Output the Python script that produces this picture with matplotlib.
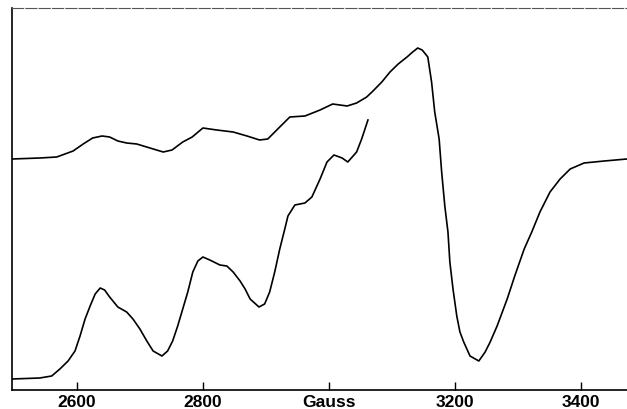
import matplotlib
matplotlib.use("Agg")
import matplotlib.pyplot as plt

# Upper trace (field in Gauss, signal in arbitrary units)
field_a = [2497, 2541, 2568, 2594, 2610, 2625, 2640, 2652, 2665, 2679, 2695, 2716,
           2737, 2751, 2768, 2783, 2800, 2822, 2848, 2870, 2890, 2903, 2922, 2938,
           2962, 2986, 3006, 3029, 3044, 3060, 3070, 3084, 3097, 3110, 3124, 3133,
           3141, 3148, 3152, 3157, 3163, 3168, 3175, 3179, 3184, 3189, 3192, 3197,
           3203, 3208, 3214, 3224, 3238, 3248, 3256, 3267, 3283, 3295, 3310, 3322,
           3335, 3351, 3367, 3383, 3405, 3437, 3473]
signal_a = [231, 232, 233, 239, 246, 252, 254, 253, 249, 247, 246, 242,
            238, 240, 248, 253, 262, 260, 258, 254, 250, 251, 263, 273,
            274, 280, 286, 284, 287, 293, 299, 308, 318, 326, 333, 338,
            342, 340, 337, 333, 308, 278, 251, 218, 184, 158, 128, 101,
            74, 58, 48, 34, 29, 38, 48, 64, 91, 114, 141, 158,
            178, 198, 211, 221, 227, 229, 231]

# Lower trace
field_b = [2497, 2541, 2560, 2573, 2586, 2597, 2605, 2613, 2621, 2629, 2637, 2644,
           2652, 2665, 2679, 2689, 2700, 2711, 2721, 2735, 2744, 2752, 2760, 2768,
           2776, 2784, 2792, 2800, 2811, 2827, 2838, 2848, 2859, 2867, 2875, 2889,
           2898, 2906, 2914, 2922, 2930, 2935, 2946, 2962, 2973, 2986, 2997, 3008,
           3021, 3030, 3044, 3052, 3062]
signal_b = [11, 12, 14, 21, 29, 39, 54, 71, 84, 96, 102, 100,
            93, 83, 78, 71, 61, 49, 39, 34, 39, 49, 64, 81,
            98, 118, 129, 133, 130, 125, 124, 118, 109, 101, 91, 83,
            86, 98, 118, 141, 161, 174, 185, 187, 193, 211, 228, 235,
            232, 228, 238, 251, 270]

tick_values = [2600, 2800, 3000, 3200, 3400]
tick_labels = ["2600", "2800", "Gauss", "3200", "3400"]

W, H = 627, 410
fig = plt.figure(figsize=(W / 100, H / 100), dpi=100)
left_px, bottom_px, top_px = 12, 391, 9
ax = fig.add_axes([left_px / W, (H - bottom_px) / H,
                   (W - left_px) / W, (bottom_px - top_px) / H])

ax.plot(field_a, signal_a, color="black", lw=1.2, solid_joinstyle="round")
ax.plot(field_b, signal_b, color="black", lw=1.2, solid_joinstyle="round")

ax.set_xlim(2497, 2497 + (W - left_px) / 0.63)
ax.set_ylim(0, bottom_px - top_px)

ax.set_xticks(tick_values)
ax.set_xticklabels(tick_labels, fontfamily="Liberation Sans", fontweight="bold", fontsize=12.5)
ax.set_yticks([])
ax.tick_params(axis="x", direction="in", length=6, width=1.0, pad=3, colors="black")

ax.spines["right"].set_visible(False)
ax.spines["left"].set_linewidth(1.2)
ax.spines["bottom"].set_linewidth(1.2)
ax.spines["top"].set_linewidth(0.8)
ax.spines["top"].set_color("#555555")
ax.spines["top"].set_linestyle((0, (10, 2)))

fig.savefig("out.png", dpi=100)
